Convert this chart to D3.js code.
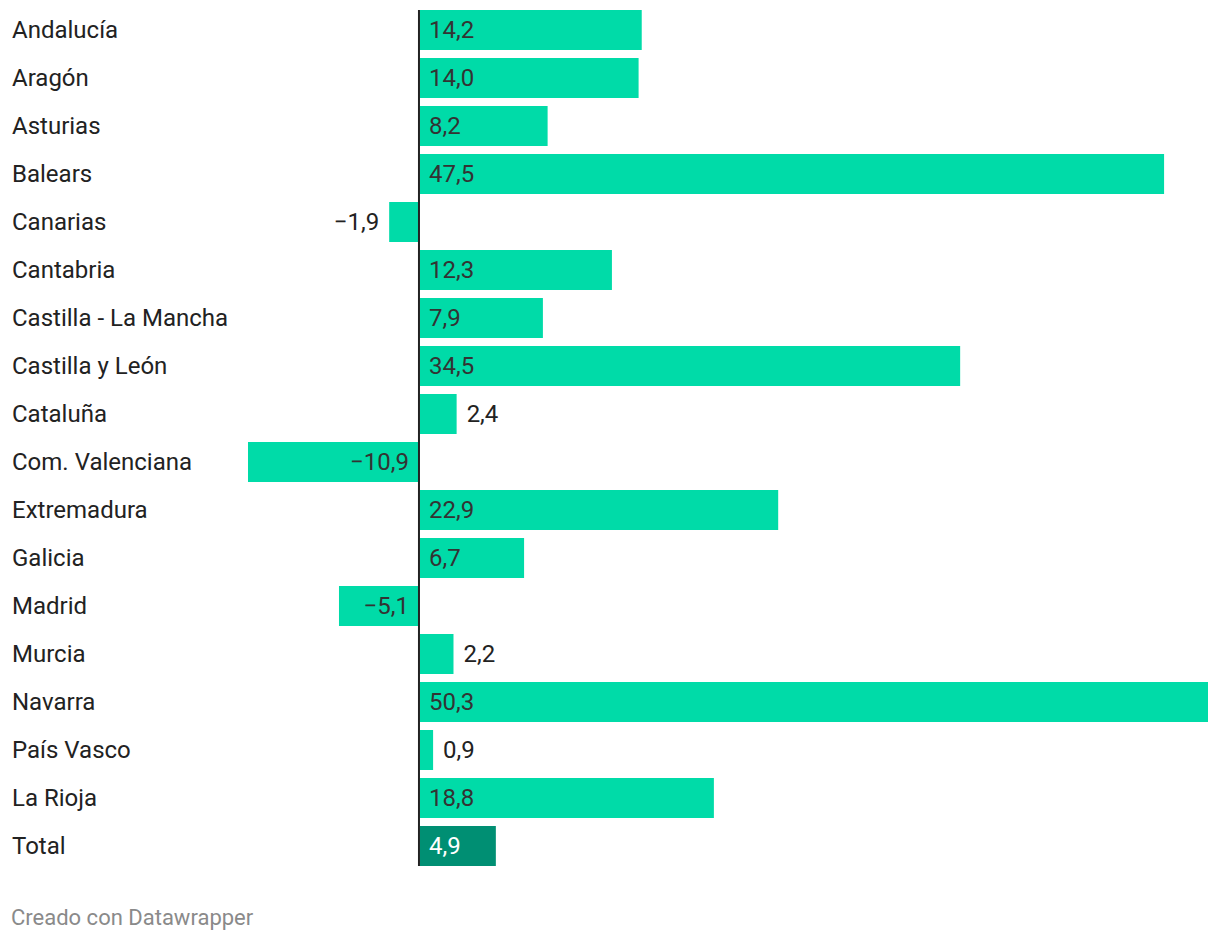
<!DOCTYPE html>
<html>
<head>
<meta charset="utf-8">
<script src="https://cdn.jsdelivr.net/npm/d3@7"></script>
<style>
  body { margin: 0; background: #fff; font-family: Roboto, "Noto Sans", sans-serif; }
</style>
</head>
<body>
<svg id="chart" width="1220" height="942"></svg>
<script>
var regions = ["Andalucía", "Aragón", "Asturias", "Balears", "Canarias", "Cantabria",
  "Castilla - La Mancha", "Castilla y León", "Cataluña", "Com. Valenciana", "Extremadura",
  "Galicia", "Madrid", "Murcia", "Navarra", "País Vasco", "La Rioja", "Total"];
var values = [14.2, 14.0, 8.2, 47.5, -1.9, 12.3, 7.9, 34.5, 2.4, -10.9, 22.9, 6.7, -5.1, 2.2, 50.3, 0.9, 18.8, 4.9];

var svg = d3.select("#chart");
var data = regions.map(function (r, i) { return { name: r, value: values[i] }; });

var x = d3.scaleLinear().domain([-10.9, 50.3]).range([248, 1208]);
var y = d3.scaleBand().domain(regions)
  .range([10, 10 + 48 * regions.length - 8])
  .paddingInner(8 / 48).paddingOuter(0);

var fmt = function (v) {
  return (v < 0 ? "\u2212" : "") + d3.format(".1f")(Math.abs(v)).replace(".", ",");
};

var rows = svg.selectAll("g.row").data(data).enter().append("g").attr("class", "row");

// region names
rows.append("text")
  .attr("x", 12)
  .attr("y", function (d) { return y(d.name) + y.bandwidth() / 2; })
  .attr("dy", "0.35em")
  .attr("font-size", 24)
  .attr("fill", "#222")
  .text(function (d) { return d.name; });

rows.append("rect")
  .attr("x", function (d) { return d.value >= 0 ? x(0) + 1 : x(d.value); })
  .attr("y", function (d) { return y(d.name); })
  .attr("width", function (d) { return Math.abs(x(d.value) - x(0)) - 1; })
  .attr("height", y.bandwidth())
  .attr("fill", function (d) { return d.name == "Total" ? "#008f73" : "#00dba8"; });

// value labels, inside when the bar is wide enough
rows.append("text")
  .attr("y", function (d) { return y(d.name) + y.bandwidth() / 2; })
  .attr("dy", "0.35em")
  .attr("font-size", 24)
  .each(function (d) {
    var w = Math.abs(x(d.value) - x(0));
    var inside = w > 60;
    var t = d3.select(this).text(fmt(d.value));
    if (d.value >= 0) {
      t.attr("x", inside ? x(0) + 10 : x(d.value) + 10).attr("text-anchor", "start");
    } else {
      t.attr("x", inside ? x(0) - 10 : x(d.value) - 10).attr("text-anchor", "end");
    }
    t.attr("fill", d.name == "Total" ? "#fff" : (inside ? "#333" : "#222"));
  });

svg.append("line")
  .attr("x1", x(0)).attr("x2", x(0))
  .attr("y1", 10).attr("y2", y("Total") + y.bandwidth())
  .attr("stroke", "#222").attr("stroke-width", 2);

svg.append("text")
  .attr("x", 11).attr("y", 925)
  .attr("font-size", 22)
  .attr("fill", "#8a8a8a")
  .text("Creado con Datawrapper");
</script>
</body>
</html>
